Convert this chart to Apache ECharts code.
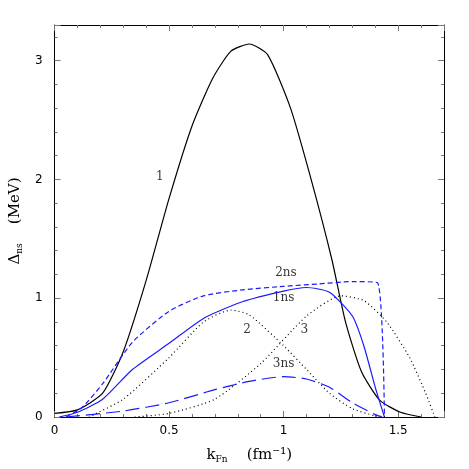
<!DOCTYPE html><html><head><meta charset="utf-8"><script src="https://cdn.jsdelivr.net/npm/echarts@6/dist/echarts.min.js"></script></head><body style="margin:0"><div id="c" style="width:469px;height:469px"></div><script>
const s1=[[0,0.03],[0.1,0.06],[0.21,0.2],[0.3,0.55],[0.4,1.15],[0.5,1.84],[0.6,2.45],[0.69,2.85],[0.77,3.08],[0.85,3.14],[0.93,3.05],[1.03,2.6],[1.12,2.0],[1.21,1.33],[1.27,0.8],[1.34,0.38],[1.42,0.14],[1.51,0.04],[1.6,0]];
const s2ns=[[0.05,0],[0.12,0.08],[0.21,0.28],[0.34,0.63],[0.5,0.89],[0.65,1.02],[0.82,1.07],[1.0,1.1],[1.15,1.12],[1.3,1.14],[1.41,1.13],[1.44,0]];
const s1ns=[[0.02,0],[0.1,0.04],[0.21,0.15],[0.34,0.4],[0.5,0.62],[0.65,0.83],[0.82,0.97],[1.0,1.06],[1.1,1.09],[1.2,1.05],[1.3,0.85],[1.35,0.6],[1.4,0.25],[1.44,0]];
const s2=[[0.15,0],[0.3,0.15],[0.5,0.5],[0.65,0.8],[0.77,0.9],[0.85,0.86],[1.0,0.6],[1.1,0.4],[1.2,0.2],[1.3,0.07],[1.4,0.01],[1.45,0]];
const s3=[[0.35,0],[0.5,0.03],[0.7,0.15],[0.9,0.45],[1.1,0.85],[1.25,1.02],[1.35,0.98],[1.45,0.8],[1.55,0.5],[1.62,0.2],[1.66,0]];
const s3ns=[[0.05,0],[0.3,0.05],[0.5,0.12],[0.7,0.23],[0.85,0.3],[1.0,0.34],[1.1,0.32],[1.2,0.25],[1.3,0.12],[1.4,0.02],[1.43,0]];
const labels=[[0.46,2.02,'1'],[1.01,1.21,'2ns'],[1.0,1.0,'1ns'],[0.84,0.73,'2'],[1.09,0.73,'3'],[1.0,0.45,'3ns']];
function mk(){return {axisLine:{show:true,onZero:false,lineStyle:{color:'#000'}},axisTick:{show:true,inside:true,length:6,lineStyle:{color:'#777'}},minorTick:{show:true,splitNumber:5,length:3,lineStyle:{color:'#777'}},splitLine:{show:false},min:0};}
const F='DejaVu Sans';
function ln(d,c,t,w){return {type:'line',data:d,smooth:0.2,showSymbol:false,symbol:'none',lineStyle:{color:c,type:t,width:w||1.2}};}
echarts.init(document.getElementById('c')).setOption({animation:false,
grid:{left:51,right:25,top:25,bottom:50},
xAxis:[Object.assign(mk(),{type:'value',max:1.7,interval:0.5,axisLabel:{color:'#000',fontFamily:F,fontSize:12,margin:8,formatter:v=>v>1.6?'':v},name:'{a|k}{s|Fn}{a|    (fm⁻¹)}',nameLocation:'middle',nameGap:30,nameTextStyle:{rich:{a:{fontSize:15,fontFamily:'DejaVu Serif'},s:{fontSize:9,fontFamily:'DejaVu Serif',padding:[8,0,0,0]}}}}),
 Object.assign(mk(),{type:'value',position:'top',max:1.7,interval:0.5,axisLabel:{show:false}})],
yAxis:[Object.assign(mk(),{type:'value',max:3.3,interval:1,axisLabel:{color:'#000',fontFamily:F,fontSize:12,margin:12,formatter:v=>v>3.2?'':v},name:'{a|Δ}{s|ns}{a|    (MeV)}',nameLocation:'middle',nameGap:28,nameTextStyle:{rich:{a:{fontSize:15,fontFamily:'DejaVu Serif'},s:{fontSize:9,fontFamily:'DejaVu Serif',padding:[8,0,0,0]}}}}),
 Object.assign(mk(),{type:'value',position:'right',max:3.3,interval:1,axisLabel:{show:false}})],
series:[ln(s1,'#000','solid'),ln(s2ns,'#1a1aff',[5,3]),ln(s1ns,'#1a1aff','solid'),ln(s2,'#000',[1,3]),ln(s3,'#000',[1,3]),ln(s3ns,'#1a1aff',[14,6]),
{type:'scatter',data:labels.map(l=>({value:[l[0],l[1]],label:{show:true,formatter:l[2],position:'inside',color:'#000',fontSize:12,fontFamily:'DejaVu Serif'}})),symbolSize:1,itemStyle:{color:'rgba(0,0,0,0)'},labelLayout:{hideOverlap:false}}]});
</script></body></html>
